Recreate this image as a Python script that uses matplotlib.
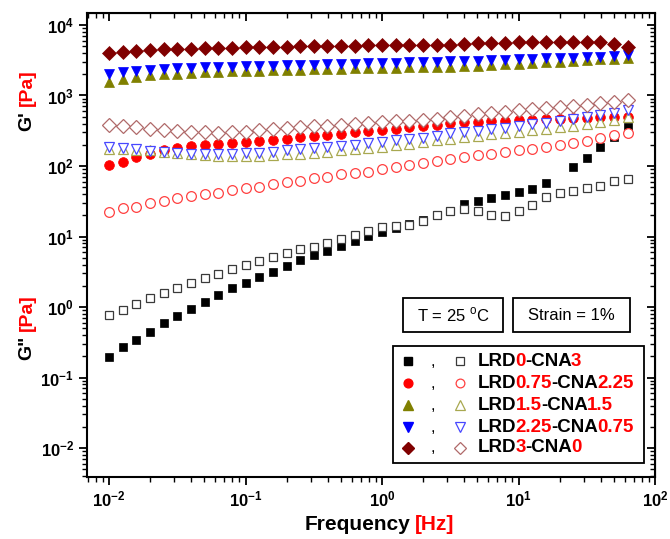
import numpy as np
import matplotlib
matplotlib.use("Agg")
import matplotlib.pyplot as plt
from matplotlib.patches import Rectangle
from matplotlib.ticker import LogLocator, NullFormatter

plt.rcParams['font.family'] = ['Liberation Sans', 'DejaVu Sans']
plt.rcParams['mathtext.fontset'] = 'custom'
plt.rcParams['mathtext.rm'] = 'Liberation Sans'
plt.rcParams['mathtext.bf'] = 'Liberation Sans:bold'

# frequency sweep [Hz]
freq = [0.01, 0.0126, 0.0158, 0.02, 0.0251, 0.0316, 0.0398, 0.0501, 0.0631, 0.0794,
        0.1, 0.126, 0.158, 0.2, 0.251, 0.316, 0.398, 0.501, 0.631, 0.794,
        1.0, 1.26, 1.58, 2.0, 2.51, 3.16, 3.98, 5.01, 6.31, 7.94,
        10.0, 12.6, 15.8, 20.0, 25.1, 31.6, 39.8, 50.1, 63.1]

# G' (storage) and G'' (loss) moduli [Pa]
gp_lrd0 = [0.195, 0.268, 0.34, 0.447, 0.587, 0.745, 0.946, 1.16, 1.48, 1.84,
           2.21, 2.69, 3.17, 3.85, 4.64, 5.41, 6.22, 7.33, 8.73, 10.3,
           11.7, 13.0, 15.0, 17.0, 20.0, 23.0, 28.9, 31.9, 35.5, 38.8,
           42.4, 47.2, 58.0, np.nan, 96.0, 128.0, 188.0, 260.0, 361.0]
gpp_lrd0 = [0.77, 0.905, 1.10, 1.33, 1.56, 1.84, 2.17, 2.55, 2.94, 3.42,
            3.90, 4.49, 5.17, 5.78, 6.58, 7.17, 8.0, 9.3, 10.4, 12.1,
            13.5, 14.1, 14.6, 16.6, 20.2, 23.2, 24.3, 23.2, 20.2, 19.7,
            23.2, 28.0, 36.0, 41.0, 44.7, 48.3, 52.0, 61.0, 64.7]

gp_lrd075 = [103, 115, 133, 150, 167, 180, 190, 199, 207, 214,
             220, 228, 237, 245, 255, 265, 276, 288, 300, 313,
             326, 340, 355, 370, 386, 403, 420, 427, 433, 440,
             447, 454, 461, 468, 475, 482, 488, 494, 500]
gpp_lrd075 = [22.5, 25, 26.5, 29.6, 32, 35, 37, 40, 42, 46,
              48, 51, 56, 59, 61, 67, 70.5, 76, 80, 83,
              90, 98, 103, 111, 119, 126, 134, 141, 150, 160,
              167, 175, 186, 199, 212, 228, 247, 271, 291]

gp_lrd15 = [1550, 1720, 1840, 1930, 2000, 2050, 2100, 2140, 2180, 2210,
            2240, 2260, 2280, 2300, 2330, 2350, 2380, 2400, 2420, 2440,
            2460, 2480, 2500, 2520, 2540, 2560, 2600, 2650, 2700, 2760,
            2820, 2880, 2950, 3020, 3100, 3180, 3260, 3330, 3380]
gpp_lrd15 = [173, 173, 170, 166, 160, 153, 148, 143, 140, 139,
             139, 140, 143, 146, 150, 155, 160, 166, 173, 180,
             188, 197, 207, 220, 232, 243, 255, 267, 280, 294,
             308, 323, 339, 356, 375, 396, 420, 455, 495]

gp_lrd225 = [2040, 2150, 2250, 2320, 2380, 2420, 2460, 2500, 2530, 2560,
             2590, 2620, 2650, 2680, 2710, 2740, 2770, 2800, 2830, 2860,
             2890, 2920, 2950, 2980, 3010, 3040, 3080, 3120, 3160, 3200,
             3250, 3300, 3350, 3400, 3450, 3500, 3560, 3620, 3700]
gpp_lrd225 = [188, 182, 172, 162, 156, 152, 149, 148, 148, 149,
              151, 155, 160, 166, 172, 178, 185, 193, 201, 210,
              220, 230, 241, 252, 270, 290, 300, 316, 333, 350,
              370, 390, 412, 435, 460, 490, 525, 570, 620]

gp_lrd3 = [4050, 4180, 4310, 4420, 4520, 4570, 4620, 4680, 4720, 4770,
           4830, 4880, 4920, 4950, 4980, 5010, 5040, 5070, 5100, 5120,
           5140, 5160, 5180, 5200, 5230, 5280, 5450, 5500, 5550, 5600,
           5650, 5700, 5750, 5780, 5800, 5800, 5700, 5380, 4830]
gpp_lrd3 = [382, 365, 352, 338, 326, 315, 306, 299, 297, 300,
            308, 320, 335, 345, 355, 365, 375, 385, 395, 405,
            415, 428, 440, 455, 470, 490, 515, 540, 565, 590,
            615, 640, 665, 690, 715, 740, 770, 810, 860]

# legend name pieces: (text, is_red)
names = [
    [("LRD", 0), ("0", 1), ("-CNA", 0), ("3", 1)],
    [("LRD", 0), ("0.75", 1), ("-CNA", 0), ("2.25", 1)],
    [("LRD", 0), ("1.5", 1), ("-CNA", 0), ("1.5", 1)],
    [("LRD", 0), ("2.25", 1), ("-CNA", 0), ("0.75", 1)],
    [("LRD", 0), ("3", 1), ("-CNA", 0), ("0", 1)],
]
storage = [gp_lrd0, gp_lrd075, gp_lrd15, gp_lrd225, gp_lrd3]
loss = [gpp_lrd0, gpp_lrd075, gpp_lrd15, gpp_lrd225, gpp_lrd3]

markers = ['s', 'o', '^', 'v', 'D']
sizes = [6.0, 7.0, 7.6, 7.6, 6.9]
fill_colors = ['#000000', '#ff0000', '#808000', '#0000ff', '#800000']
open_colors = ['#3a3a3a', '#ff4040', '#a8a850', '#4848ff', '#b06a6a']

fig = plt.figure(figsize=(6.7, 5.39), dpi=100)
W, H = 670.0, 539.0
ax = fig.add_axes([86.5 / W, 1 - 476.5 / H, 568.5 / W, 463.5 / H])
ax.set_xscale('log')
ax.set_yscale('log')

for gp, m, s, c in zip(storage, markers, sizes, fill_colors):
    ax.plot(freq, gp, linestyle='none', marker=m, ms=s, color=c, mec=c, mew=0.5, zorder=3)
for gpp, m, s, c in zip(loss, markers, sizes, open_colors):
    ax.plot(freq, gpp, linestyle='none', marker=m, ms=s, mfc='white', mec=c, mew=0.9, zorder=4)

ax.set_xlim(10 ** -2.165, 100)
ax.set_ylim(10 ** -2.404, 10 ** 4.17)

xt = [1e-2, 1e-1, 1e0, 1e1, 1e2]
yt = [1e-2, 1e-1, 1e0, 1e1, 1e2, 1e3, 1e4]
ax.set_xticks(xt)
ax.set_xticklabels([r'$\mathbf{10^{%d}}$' % e for e in range(-2, 3)])
ax.set_yticks(yt)
ax.set_yticklabels([r'$\mathbf{10^{%d}}$' % e for e in range(-2, 5)])
for a in (ax.xaxis, ax.yaxis):
    a.set_minor_locator(LogLocator(base=10, subs=np.arange(2, 10), numticks=30))
    a.set_minor_formatter(NullFormatter())
ax.tick_params(which='major', direction='out', length=6, width=1.3, labelsize=12, pad=3)
ax.tick_params(which='minor', direction='out', length=3.5, width=1.0)
for sp in ax.spines.values():
    sp.set_linewidth(1.5)

# inward ticks on top and right
sx = ax.secondary_xaxis('top')
sx.set_xticks(xt)
sx.xaxis.set_minor_locator(LogLocator(base=10, subs=np.arange(2, 10), numticks=30))
sx.tick_params(which='major', direction='in', length=6, width=1.3, labeltop=False)
sx.tick_params(which='minor', direction='in', length=3.5, width=1.0)
sy = ax.secondary_yaxis('right')
sy.set_yticks(yt)
sy.yaxis.set_minor_locator(LogLocator(base=10, subs=np.arange(2, 10), numticks=30))
sy.tick_params(which='major', direction='in', length=6, width=1.3, labelright=False)
sy.tick_params(which='minor', direction='in', length=3.5, width=1.0)

# axis labels with red units
lab = dict(fontsize=15, fontweight='bold')
fig.text(410 / W, 1 - 524 / H, "Frequency", ha='right', va='center', color='black', **lab)
fig.text(415 / W, 1 - 524 / H, "[Hz]", ha='left', va='center', color='red', **lab)
lab = dict(fontsize=14, fontweight='bold')
fig.text(27 / W, 1 - 111 / H, "G'", rotation=90, rotation_mode='anchor', ha='right', va='center', color='black', **lab)
fig.text(27 / W, 1 - 106 / H, "[Pa]", rotation=90, rotation_mode='anchor', ha='left', va='center', color='red', **lab)
fig.text(27 / W, 1 - 336 / H, 'G"', rotation=90, rotation_mode='anchor', ha='right', va='center', color='black', **lab)
fig.text(27 / W, 1 - 331 / H, "[Pa]", rotation=90, rotation_mode='anchor', ha='left', va='center', color='red', **lab)


def ax_frac(px, py):
    return (px - 86.5) / 568.5, (476.5 - py) / 463.5


def colored_text(x, y, parts, size):
    # chain text pieces left to right, each starting where the previous ends
    prev = ax.text(x, y, parts[0][0], transform=ax.transAxes, ha='left', va='center',
                   color='red' if parts[0][1] else 'black', fontsize=size,
                   fontweight='bold', zorder=7)
    for t, r in parts[1:]:
        prev = ax.annotate(t, xy=(1, 0), xycoords=prev, xytext=(-0.6, 0),
                           textcoords='offset points', ha='left', va='bottom',
                           color='red' if r else 'black', fontsize=size,
                           fontweight='bold', zorder=7)


# condition boxes
for (x0, x1), txt in [((403, 503), r'T = 25 $^{\mathrm{o}}$C'), ((513, 630), 'Strain = 1%')]:
    a0, b0 = ax_frac(x0, 332)
    a1, b1 = ax_frac(x1, 298)
    ax.add_patch(Rectangle((a0, b0), a1 - a0, b1 - b0, transform=ax.transAxes,
                           fill=False, ec='black', lw=1.3, zorder=5))
    ax.text((a0 + a1) / 2, (b0 + b1) / 2, txt, transform=ax.transAxes, ha='center',
            va='center', fontsize=12, zorder=6)

# legend box
a0, b0 = ax_frac(393, 463)
a1, b1 = ax_frac(644, 346)
ax.add_patch(Rectangle((a0, b0), a1 - a0, b1 - b0, transform=ax.transAxes,
                       fc='white', ec='black', lw=1.3, zorder=5))
rows_y = [361, 383, 405, 427, 448]
for i, py in enumerate(rows_y):
    fx, fy = ax_frac(408, py)
    cx, _ = ax_frac(433, py)
    ox, _ = ax_frac(460, py)
    tx, _ = ax_frac(478, py)
    ax.plot([fx], [fy], transform=ax.transAxes, marker=markers[i], ms=sizes[i] * 0.9,
            color=fill_colors[i], mec=fill_colors[i], linestyle='none', zorder=6, clip_on=False)
    ax.plot([ox], [fy], transform=ax.transAxes, marker=markers[i], ms=sizes[i] * 0.9,
            mfc='white', mec=open_colors[i], mew=0.9, linestyle='none', zorder=6, clip_on=False)
    ax.text(cx, fy, ',', transform=ax.transAxes, ha='center', va='center', fontsize=12, zorder=6)
    colored_text(tx, fy, names[i], 13.5)

fig.savefig('out.png', dpi=100)
